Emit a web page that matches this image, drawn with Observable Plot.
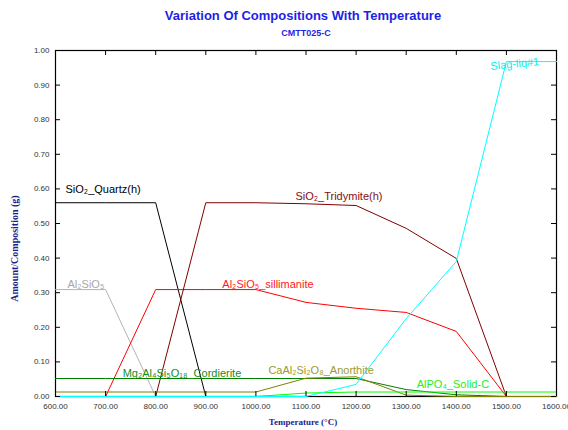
<!DOCTYPE html>
<html><head><meta charset="utf-8">
<script src="https://cdn.jsdelivr.net/npm/d3@7"></script>
<script src="https://cdn.jsdelivr.net/npm/@observablehq/plot@0.6"></script>
<style>body{margin:0;background:#fff} svg{display:block}</style>
</head><body><div id="chart"></div>
<script>
const temperatures = [600, 700, 800, 900, 1000, 1100, 1200, 1300, 1400, 1500, 1600];
const al2sio5      = [0.309, 0.309, 0, 0, 0, 0, 0, 0, 0, 0, 0];
const quartz       = [0.56, 0.56, 0.56, 0, 0, 0, 0, 0, 0, 0, 0];
const sillimanite  = [0, 0, 0.309, 0.309, 0.309, 0.272, 0.255, 0.243, 0.188, 0, 0];
const tridymite    = [0, 0, 0, 0.56, 0.56, 0.557, 0.552, 0.486, 0.399, 0, 0];
const cordierite   = [0.052, 0.052, 0.052, 0.052, 0.052, 0.052, 0.052, 0.02, 0.005, 0, 0];
const anorthite    = [0.013, 0.013, 0.013, 0.013, 0.013, 0.053, 0.057, 0.004, 0, 0, 0];
const alpo4        = [0, 0, 0, 0, 0, 0.01, 0.013, 0.013, 0.013, 0.013, 0.013];
const slag         = [0, 0, 0, 0, 0, 0, 0.035, 0.225, 0.39, 0.968, 0.968];

const seriesNames  = ["Al₂SiO₅", "SiO₂_Quartz(h)", "Al₂SiO₅_sillimanite", "SiO₂_Tridymite(h)",
                      "Mg₂Al₄Si₅O₁₈_Cordierite", "CaAl₂Si₂O₈_Anorthite", "AlPO₄_Solid-C", "Slag-liq#1"];
const seriesValues = [al2sio5, quartz, sillimanite, tridymite, cordierite, anorthite, alpo4, slag];
const lineColors   = ["#b4b4b4", "#000000", "#ff0000", "#800000", "#008000", "#808000", "#00ff00", "#00ffff"];
const labelColors  = ["#a8a8a8", "#000000", "#ff1a1a", "#801010", "#1a8c1a", "#9a9a30", "#22ee22", "#00f0f0"];
const labelTemps   = [624, 620, 933, 1079, 734, 1025, 1321, 1468];
const labelAmounts = [0.325, 0.597, 0.325, 0.577, 0.068, 0.074, 0.036, 0.954];

const xTicks = [600, 700, 800, 900, 1000, 1100, 1200, 1300, 1400, 1500, 1600];
const yTicks = [0, 0.1, 0.2, 0.3, 0.4, 0.5, 0.6, 0.7, 0.8, 0.9, 1.0];

const titleText = "Variation Of Compositions With Temperature";
const subtitleText = "CMTT025-C";
const xLabel = "Temperature (°C)";
const yLabel = "Amount/Composition (g)";

const rows = [];
seriesNames.forEach((name, s) => seriesValues[s].forEach((v, i) =>
  rows.push({name, T: temperatures[i], v, color: lineColors[s]})));

const straight = seriesNames.slice(0, 7).map((n, i) => ({n, i}));
const rotated = [{n: seriesNames[7], i: 7}];
const fmt = d3.format(".2f");
const sans = "'Liberation Sans', Arial, sans-serif";
const serif = "'Liberation Serif', 'Times New Roman', serif";

const chart = Plot.plot({
  width: 568, height: 430,
  marginLeft: 55, marginRight: 12, marginTop: 50, marginBottom: 34,
  x: {domain: [600, 1600]},
  y: {domain: [0, 1]},
  color: {type: "identity"},
  style: {fontFamily: sans, color: "#333", background: "#fff"},
  marks: [
    Plot.frame({stroke: "#000", strokeWidth: 1.2}),
    Plot.line(rows, {x: "T", y: "v", z: "name", stroke: "color", strokeWidth: 1}),
    Plot.ruleX(xTicks, {x: d => d, y1: 0, y2: 0, insetTop: -5, stroke: "#000"}),
    Plot.ruleX(xTicks, {x: d => d, y1: 1, y2: 1, insetBottom: -5, stroke: "#000"}),
    Plot.ruleY(yTicks, {y: d => d, x1: 600, x2: 600, insetRight: -5, stroke: "#000"}),
    Plot.ruleY(yTicks, {y: d => d, x1: 1600, x2: 1600, insetLeft: -5, stroke: "#000"}),
    Plot.axisX({ticks: xTicks, tickFormat: fmt, tickSize: 0, tickPadding: 7, label: null, fontSize: 8}),
    Plot.axisY({ticks: yTicks, tickFormat: fmt, tickSize: 0, tickPadding: 6, label: null, fontSize: 8}),
    Plot.text(straight, {x: d => labelTemps[d.i], y: d => labelAmounts[d.i], text: d => d.n,
      fill: d => labelColors[d.i], textAnchor: "start", fontSize: 11}),
    Plot.text(rotated, {x: d => labelTemps[d.i], y: d => labelAmounts[d.i], text: d => d.n,
      fill: d => labelColors[d.i], textAnchor: "start", fontSize: 11, rotate: -5.5}),
    Plot.text([titleText], {frameAnchor: "top", dy: -40, dx: -3, text: d => d, fill: "#1f1fe6",
      fontSize: 13, fontWeight: "bold"}),
    Plot.text([subtitleText], {frameAnchor: "top", dy: -21, text: d => d, fill: "#1f1fe6",
      fontSize: 9, fontWeight: "bold"}),
    Plot.text([xLabel], {frameAnchor: "bottom", dy: 28, dx: -3, text: d => d, fill: "#1c1c8c",
      fontSize: 9, fontWeight: "bold", fontFamily: serif}),
    Plot.text([yLabel], {frameAnchor: "left", dx: -41, dy: 25, rotate: -90, textAnchor: "middle",
      lineAnchor: "middle", text: d => d, fill: "#1c1c8c",
      fontSize: 10, fontWeight: "bold", fontFamily: serif})
  ]
});
document.getElementById("chart").appendChild(chart);
</script>
</body></html>
